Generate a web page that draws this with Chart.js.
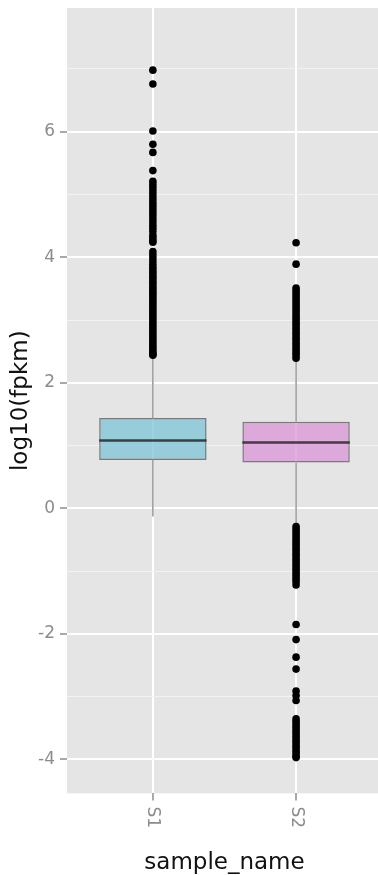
<!DOCTYPE html>
<html>
<head>
<meta charset="utf-8">
<script src="https://cdn.jsdelivr.net/npm/chart.js@4.4.1/dist/chart.umd.min.js"></script>
<style>
  html, body { margin: 0; padding: 0; background: #ffffff; overflow: hidden; }
  #wrap { position: relative; width: 386px; height: 880px; }
</style>
</head>
<body>
<div id="wrap"><canvas id="BoxChart"></canvas></div>
<script>
// box statistics (log10 fpkm)
const samples = ["S1", "S2"];
const q1 = [0.77, 0.73];
const medians = [1.08, 1.05];
const q3 = [1.44, 1.38];
const whiskerLow = [-0.13, -0.24];
const whiskerHigh = [2.40, 2.35];

// outlier dots, one list per sample
const outliersS1 = [6.98, 6.76, 6.01, 5.80, 5.67, 5.38, 5.21, 5.16, 5.11, 5.06, 5.01, 4.96, 4.91, 4.86,
  4.81, 4.76, 4.71, 4.66, 4.61, 4.56, 4.51, 4.46, 4.41, 4.35, 4.31, 4.27, 4.24, 4.09, 4.04, 3.99, 3.94,
  3.89, 3.84, 3.80, 3.76, 3.72, 3.68, 3.64, 3.60, 3.56, 3.52, 3.48, 3.44, 3.40, 3.36, 3.32, 3.28, 3.24,
  3.20, 3.16, 3.12, 3.08, 3.04, 3.00, 2.96, 2.92, 2.88, 2.84, 2.80, 2.76, 2.72, 2.68, 2.64, 2.60, 2.56,
  2.52, 2.48, 2.46, 2.44];
const outliersS2 = [4.23, 3.89, 3.51, 3.47, 3.43, 3.39, 3.35, 3.31, 3.27, 3.23, 3.19, 3.15, 3.11, 3.07,
  3.03, 2.99, 2.95, 2.91, 2.87, 2.83, 2.79, 2.75, 2.71, 2.67, 2.63, 2.59, 2.55, 2.51, 2.47, 2.43, 2.39,
  -0.29, -0.33, -0.37, -0.41, -0.45, -0.49, -0.53, -0.57, -0.61, -0.65, -0.69, -0.73, -0.77, -0.81,
  -0.85, -0.89, -0.93, -0.97, -1.01, -1.05, -1.09, -1.13, -1.17, -1.22, -1.85, -2.09, -2.37, -2.56,
  -2.91, -2.98, -3.06, -3.35, -3.39, -3.43, -3.47, -3.51, -3.55, -3.59, -3.63, -3.67, -3.71, -3.75,
  -3.79, -3.83, -3.87, -3.91, -3.95, -3.97];

const yTicks = [-4, -2, 0, 2, 4, 6];
const yMinorTicks = [-3, -1, 1, 3, 5, 7];
const yRange = [-4.54, 7.97];
const xRange = [0.4, 2.6];

const boxColors = ["rgba(124,195,215,0.75)", "rgba(217,148,215,0.75)"];
const boxWidth = 0.75;
const tickGrey = "#8c8c8c";
const fontFamily = "DejaVu Sans";

// whisker segments and median lines, with null gaps between pieces
let whiskerPts = [];
let medianPts = [];
samples.forEach(function(s, i) {
    const x = i + 1;
    whiskerPts.push({x: x, y: whiskerLow[i]}, {x: x, y: q1[i]}, {x: x, y: null},
                    {x: x, y: q3[i]}, {x: x, y: whiskerHigh[i]}, {x: x, y: null});
    medianPts.push({x: x - boxWidth / 2, y: medians[i]}, {x: x + boxWidth / 2, y: medians[i]}, {x: x, y: null});
});
const outlierPts = [outliersS1, outliersS2].flatMap(function(arr, i) {
    return arr.map(function(v) { return {x: i + 1, y: v}; });
});

const panelPlugin = {
    id: "panel",
    beforeDraw: function(chart) {
        const a = chart.chartArea;
        const ctx = chart.ctx;
        ctx.save();
        ctx.fillStyle = "#e5e5e5";
        ctx.fillRect(a.left, a.top, a.right - a.left, a.bottom - a.top);
        ctx.restore();
    },
    afterDraw: function(chart) {
        // x labels read top to bottom, like the reference
        const sc = chart.scales.x;
        const ctx = chart.ctx;
        ctx.save();
        ctx.font = "17px '" + fontFamily + "'";
        ctx.fillStyle = tickGrey;
        ctx.textAlign = "left";
        ctx.textBaseline = "middle";
        sc.ticks.forEach(function(t) {
            ctx.save();
            ctx.translate(sc.getPixelForValue(t.value), chart.chartArea.bottom + 7 + 6);
            ctx.rotate(Math.PI / 2);
            ctx.fillText(t.label, 0, 0);
            ctx.restore();
        });
        ctx.restore();
    }
};

function isMajor(c) {
    return c.tick && yTicks.includes(c.tick.value);
}

const ctx = document.getElementById("BoxChart").getContext("2d");
const boxChart = new Chart(ctx, {
    type: "bar",
    data: {
        datasets: [
            {
                type: "scatter", data: outlierPts, order: 1,
                pointRadius: 3.8, pointBackgroundColor: "#000000", pointBorderWidth: 0
            },
            {
                type: "line", data: medianPts, order: 2,
                borderColor: "rgba(40,40,40,0.85)", borderWidth: 2.5, pointRadius: 0, spanGaps: false
            },
            {
                type: "bar", order: 3,
                data: samples.map(function(s, i) { return {x: i + 1, y: [q1[i], q3[i]]}; }),
                backgroundColor: boxColors, borderColor: "rgba(50,50,50,0.6)", borderWidth: 1.5,
                borderSkipped: false, categoryPercentage: 1, barPercentage: boxWidth
            },
            {
                type: "line", data: whiskerPts, order: 4,
                borderColor: "rgba(70,70,70,0.6)", borderWidth: 1.4, pointRadius: 0, spanGaps: false
            }
        ]
    },
    options: {
        responsive: true,
        maintainAspectRatio: false,
        animation: false,
        events: [],
        layout: { padding: { top: 8, right: 0, bottom: 0, left: 0 } },
        plugins: { legend: { display: false }, tooltip: { enabled: false } },
        scales: {
            x: {
                type: "linear", min: xRange[0], max: xRange[1], offset: false,
                afterBuildTicks: function(scale) {
                    scale.ticks = samples.map(function(s, i) { return {value: i + 1}; });
                },
                grid: { offset: false, color: "#ffffff", lineWidth: 2, tickLength: 7, tickColor: tickGrey, tickWidth: 1.5 },
                border: { display: false },
                ticks: {
                    autoSkip: false, minRotation: 90, maxRotation: 90, padding: 6,
                    color: "rgba(0,0,0,0)", font: { family: fontFamily, size: 17 },
                    callback: function(v) { return samples[v - 1] || ""; }
                },
                title: {
                    display: true, text: "sample_name", color: "#111111",
                    font: { family: fontFamily, size: 23, lineHeight: 1 }, padding: { top: 18, bottom: 5 }
                }
            },
            y: {
                min: yRange[0], max: yRange[1],
                afterBuildTicks: function(scale) {
                    scale.ticks = yTicks.concat(yMinorTicks).sort(function(a, b) { return a - b; })
                        .map(function(v) { return {value: v}; });
                },
                grid: {
                    color: function(c) { return isMajor(c) ? "#ffffff" : "#f2f2f2"; },
                    lineWidth: function(c) { return isMajor(c) ? 2 : 1; },
                    tickLength: 7,
                    tickColor: function(c) { return isMajor(c) ? tickGrey : "rgba(0,0,0,0)"; },
                    tickWidth: 1.5
                },
                border: { display: false },
                ticks: {
                    padding: 5, color: tickGrey,
                    font: function(c) { return { family: fontFamily, size: isMajor(c) ? 17 : 1 }; },
                    callback: function(v) { return yTicks.includes(v) ? String(v) : ""; }
                },
                title: {
                    display: true, text: "log10(fpkm)", color: "#111111",
                    font: { family: fontFamily, size: 23, lineHeight: 1 }, padding: { top: 10, bottom: 0 }
                }
            }
        }
    },
    plugins: [panelPlugin]
});
</script>
</body>
</html>
